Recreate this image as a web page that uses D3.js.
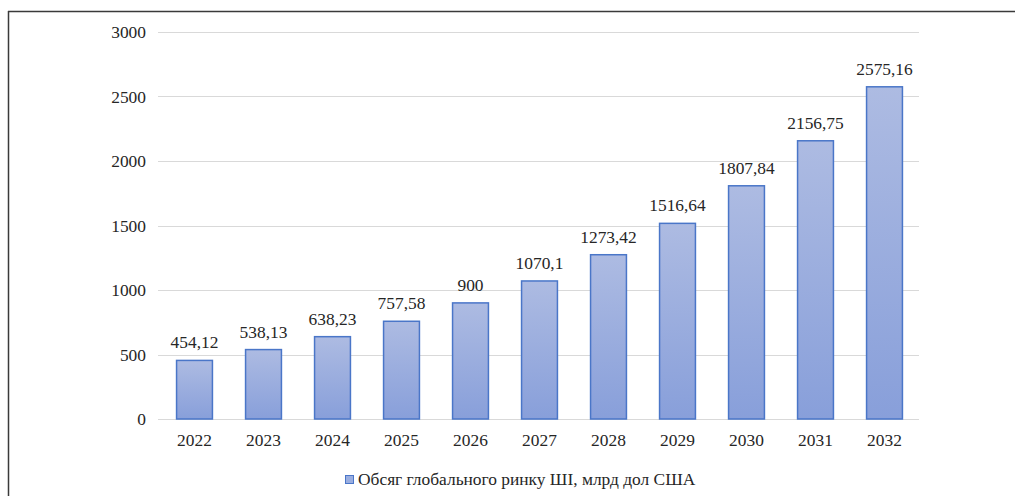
<!DOCTYPE html>
<html><head><meta charset="utf-8">
<script src="https://cdn.jsdelivr.net/npm/d3@7"></script>
<style>
body{margin:0;background:#fff;}
svg{display:block;}
</style></head>
<body>
<svg id="c" width="1015" height="496"></svg>
<script>
const years = ["2022","2023","2024","2025","2026","2027","2028","2029","2030","2031","2032"];
const values = [454.12,538.13,638.23,757.58,900,1070.1,1273.42,1516.64,1807.84,2156.75,2575.16];
const labels = ["454,12","538,13","638,23","757,58","900","1070,1","1273,42","1516,64","1807,84","2156,75","2575,16"];
const yTicks = [0,500,1000,1500,2000,2500,3000];
const seriesName = "Обсяг глобального ринку ШІ, млрд дол США";

const svg = d3.select("#c");
const FONT = "Liberation Serif";
const fs = "17.4px";
const txtCol = "#262626";

// frame
svg.append("line").attr("x1",8).attr("x2",1015).attr("y1",11.5).attr("y2",11.5).attr("stroke","#3a3a3a").attr("stroke-width",1.5);
svg.append("line").attr("x1",8.5).attr("x2",8.5).attr("y1",11).attr("y2",496).attr("stroke","#3a3a3a").attr("stroke-width",1.5);

const x = d3.scaleBand().domain(years).range([160,919]).paddingInner(0.48).paddingOuter(0.24);
const y = d3.scaleLinear().domain([0,3000]).range([419,32]);

const defs = svg.append("defs");
const g = defs.append("linearGradient").attr("id","bg").attr("x1",0).attr("x2",0).attr("y1",0).attr("y2",1);
g.append("stop").attr("offset","0%").attr("stop-color","#adbbe2");
g.append("stop").attr("offset","100%").attr("stop-color","#889fda");

// gridlines
svg.append("g").selectAll("line").data(yTicks).join("line")
  .attr("x1",158).attr("x2",919).attr("y1",d=>Math.round(y(d))+0.5).attr("y2",d=>Math.round(y(d))+0.5)
  .attr("stroke","#d9d9d9").attr("stroke-width",1);

// y axis labels
const ya = svg.append("g").attr("transform","translate(146,0)")
  .call(d3.axisLeft(y).tickValues(yTicks).tickSize(0).tickPadding(0).tickFormat(d3.format("d")));
ya.select(".domain").remove();
ya.selectAll("text").style("font-size",fs).style("font-family",FONT).attr("fill",txtCol);

// bars
svg.append("g").selectAll("rect").data(values).join("rect")
  .attr("x",(d,i)=>x(years[i])).attr("width",x.bandwidth())
  .attr("y",d=>y(d)).attr("height",d=>y(0)-y(d))
  .attr("fill","url(#bg)").attr("stroke","#4a76c8").attr("stroke-width",1.5);

// value labels
svg.append("g").selectAll("text").data(values).join("text")
  .attr("x",(d,i)=>x(years[i])+x.bandwidth()/2).attr("y",d=>y(d)-12)
  .attr("text-anchor","middle").style("font-size",fs).style("font-family",FONT).attr("fill",txtCol)
  .text((d,i)=>labels[i]);

// x axis
const xa = svg.append("g").attr("transform","translate(0,419)")
  .call(d3.axisBottom(x).tickSize(0).tickPadding(0));
xa.select(".domain").remove();
xa.selectAll("text").style("font-size",fs).style("font-family",FONT).attr("fill",txtCol)
  .attr("dy",null).attr("y",27);

// legend
svg.append("rect").attr("x",345.5).attr("y",475.5).attr("width",8).attr("height",8)
  .attr("fill","#9aaee0").attr("stroke","#4a76c8").attr("stroke-width",1);
svg.append("text").attr("x",358).attr("y",485).style("font-size",fs).style("font-family",FONT).attr("fill",txtCol).text(seriesName);
</script>
</body></html>
